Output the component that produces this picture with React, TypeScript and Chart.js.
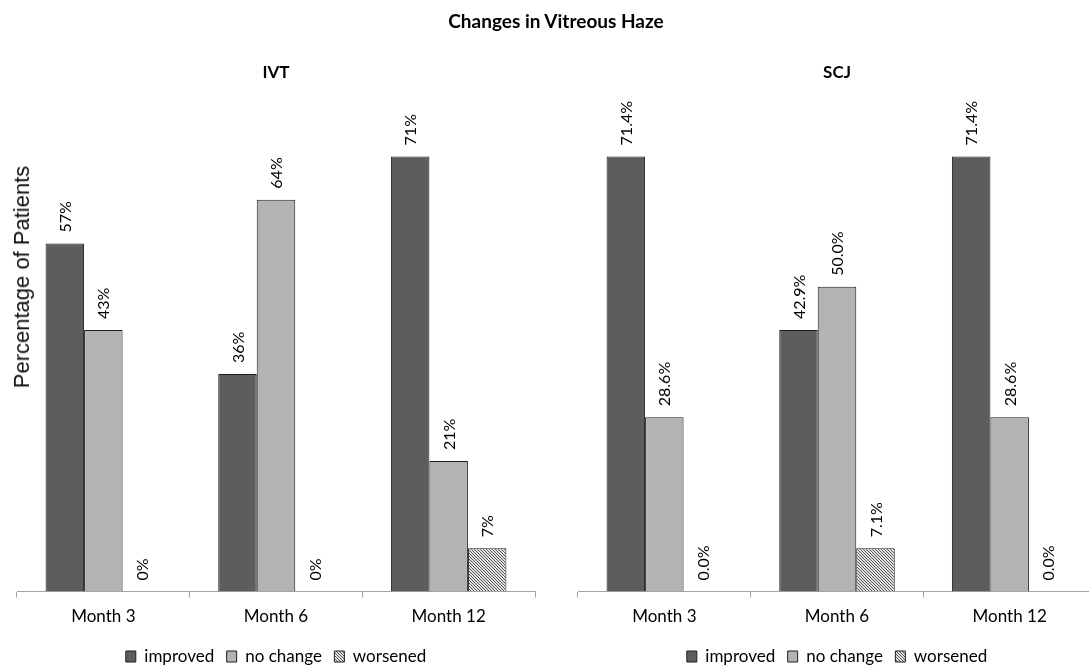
import React, { useEffect, useRef } from "react";
import { Chart, registerables } from "chart.js";

Chart.register(...registerables);

// ---- data ----
const categories = ["Month 3", "Month 6", "Month 12"];
const seriesNames = ["improved", "no change", "worsened"];

const ivtImproved = [57.1, 35.7, 71.4];
const ivtNoChange = [42.9, 64.3, 21.4];
const ivtWorsened = [0, 0, 7.1];

const scjImproved = [71.4, 42.9, 71.4];
const scjNoChange = [28.6, 50.0, 28.6];
const scjWorsened = [0.0, 7.1, 0.0];

const yMin = 0;
const yMax = 80;

const mainTitle = "Changes in Vitreous Haze";
const yAxisTitle = "Percentage of Patients";

// ---- styles ----
const FONT = "Lato, 'Noto Sans', sans-serif";
const improvedColor = "#5d5d5d";
const noChangeColor = "#b3b3b3";
const borderColor = "#1e1e1e";
const axisColor = "#a3a3a3";

function makeHatch(): CanvasPattern | string {
  const c = document.createElement("canvas");
  c.width = 3;
  c.height = 3;
  const g = c.getContext("2d");
  if (!g) return "#999";
  g.fillStyle = "#e2e2e2";
  g.fillRect(0, 0, 3, 3);
  g.fillStyle = "#555555";
  for (let i = 0; i < 3; i++) g.fillRect(i, i, 1, 1);
  return g.createPattern(c, "repeat") || "#999";
}

function labelPlugin(decimals: number) {
  return {
    id: "barValueLabels",
    afterDatasetsDraw(chart: any) {
      const ctx = chart.ctx;
      chart.data.datasets.forEach((ds: any, di: number) => {
        const meta = chart.getDatasetMeta(di);
        meta.data.forEach((bar: any, i: number) => {
          const v = ds.data[i] as number;
          const text = v.toFixed(decimals) + "%";
          ctx.save();
          ctx.translate(bar.x, bar.y - 11);
          ctx.rotate(-Math.PI / 2);
          ctx.font = "16px " + FONT;
          ctx.fillStyle = "#000";
          ctx.textAlign = "left";
          ctx.textBaseline = "middle";
          ctx.fillText(text, 0, 1);
          ctx.restore();
        });
      });
    },
  };
}

type PanelProps = {
  title: string;
  improved: number[];
  noChange: number[];
  worsened: number[];
  decimals: number;
  left: number;
  padLeft: number;
  padRight: number;
};

function Panel(p: PanelProps) {
  const ref = useRef<HTMLCanvasElement | null>(null);
  useEffect(() => {
    if (!ref.current) return;
    const hatch = makeHatch();
    const bw = (ctx: any) => (ctx.raw === 0 ? 0 : 1);
    const chart = new Chart(ref.current, {
      type: "bar",
      data: {
        labels: categories,
        datasets: [
          { label: seriesNames[0], data: p.improved, backgroundColor: improvedColor, borderColor, borderWidth: bw as any },
          { label: seriesNames[1], data: p.noChange, backgroundColor: noChangeColor, borderColor, borderWidth: bw as any },
          { label: seriesNames[2], data: p.worsened, backgroundColor: hatch as any, borderColor, borderWidth: bw as any },
        ],
      },
      options: {
        responsive: false,
        animation: false,
        devicePixelRatio: 1,
        layout: { padding: { left: p.padLeft, right: p.padRight, top: 0, bottom: 0 } },
        datasets: { bar: { categoryPercentage: 0.669, barPercentage: 1 } },
        scales: {
          x: {
            grid: { offset: true, drawOnChartArea: false, drawTicks: true, tickLength: 6, color: axisColor },
            border: { color: axisColor, width: 1 },
            ticks: { font: { family: FONT, size: 17 }, color: "#000", padding: 8.8 },
          },
          y: { display: false, min: yMin, max: yMax },
        },
        plugins: {
          title: {
            display: true,
            text: p.title,
            color: "#000",
            font: { family: FONT, size: 17, weight: "bold" },
            padding: { top: 62.8, bottom: 20.8 },
          },
          legend: {
            position: "bottom",
            labels: {
              boxWidth: 10,
              boxHeight: 11,
              padding: 12.5,
              color: "#000",
              font: { family: FONT, size: 17 },
              generateLabels: (chart: any) =>
                chart.data.datasets.map((ds: any, i: number) => ({
                  text: ds.label,
                  fillStyle: ds.backgroundColor,
                  strokeStyle: borderColor,
                  lineWidth: 1,
                  hidden: false,
                  datasetIndex: i,
                  fontColor: "#000",
                })),
            },
          },
          tooltip: { enabled: false },
        },
      },
      plugins: [labelPlugin(p.decimals)],
    } as any);
    return () => chart.destroy();
  }, []);
  return (
    <canvas
      ref={ref}
      width={560}
      height={675}
      style={{ position: "absolute", left: p.left, top: 0, width: 560, height: 675 }}
    />
  );
}

export default function App() {
  return (
    <div
      style={{
        position: "fixed",
        left: 0,
        top: 0,
        width: 1089,
        height: 668,
        overflow: "hidden",
        background: "#fff",
      }}
    >
      <Panel title="IVT" improved={ivtImproved} noChange={ivtNoChange} worsened={ivtWorsened} decimals={0} left={0} padLeft={17} padRight={25} />
      <Panel title="SCJ" improved={scjImproved} noChange={scjNoChange} worsened={scjWorsened} decimals={1} left={560} padLeft={18} padRight={24} />
      <div
        style={{
          position: "absolute",
          left: 0,
          top: 9,
          width: 1112,
          textAlign: "center",
          fontFamily: FONT,
          fontWeight: "bold",
          fontSize: 19,
          lineHeight: "24px",
          color: "#000",
        }}
      >
        {mainTitle}
      </div>
      <div
        style={{
          position: "absolute",
          left: 22,
          top: 277,
          transform: "translate(-50%, -50%) rotate(-90deg)",
          whiteSpace: "nowrap",
          fontFamily: "'Liberation Sans', Arial, sans-serif",
          fontSize: 22,
          color: "#111",
        }}
      >
        {yAxisTitle}
      </div>
    </div>
  );
}
